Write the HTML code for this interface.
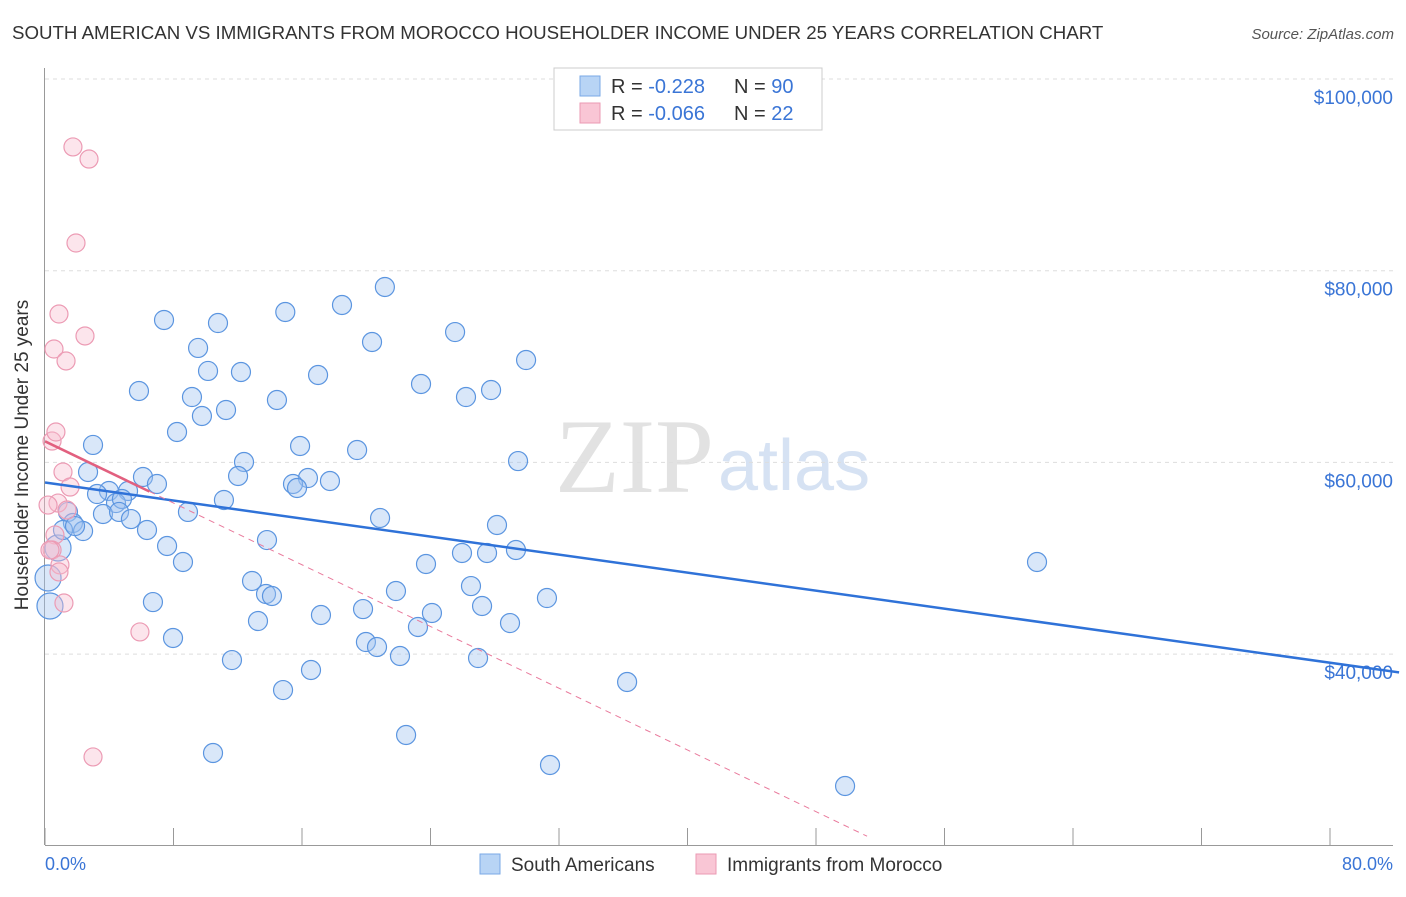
<!DOCTYPE html>
<html><head><meta charset="utf-8"><style>
body{margin:0;background:#fff;font-family:"Liberation Sans",sans-serif}
</style></head><body>
<svg width="1406" height="892" xmlns="http://www.w3.org/2000/svg" font-family="Liberation Sans, sans-serif">
<text x="12" y="39" font-size="18.7" fill="#333">SOUTH AMERICAN VS IMMIGRANTS FROM MOROCCO HOUSEHOLDER INCOME UNDER 25 YEARS CORRELATION CHART</text>
<text x="1394" y="39" font-size="15" fill="#555" font-style="italic" text-anchor="end">Source: ZipAtlas.com</text>
<text x="714" y="492" font-size="106" fill="#e2e2e2" text-anchor="end" font-family="Liberation Serif, serif">ZIP</text>
<text x="718" y="490" font-size="72" fill="#d6e2f3">atlas</text>
<g id="grid"></g><g id="axes"></g><g id="pts"></g><g id="lines"></g>
<text x="28" y="455" font-size="19" fill="#333" text-anchor="middle" transform="rotate(-90 28 455)">Householder Income Under 25 years</text>
<text x="45" y="870" font-size="18" fill="#3a75d6">0.0%</text>
<text x="1393" y="870" font-size="18" fill="#3a75d6" text-anchor="end">80.0%</text>
<g>
<rect x="554" y="68" width="268" height="62" fill="#fff" stroke="#ccc"/>
<rect x="580" y="76" width="20" height="20" fill="#b8d4f5" stroke="#7aa8e6"/>
<rect x="580" y="103" width="20" height="20" fill="#f9c6d5" stroke="#eb9ab3"/>
<text x="611" y="93" font-size="20" fill="#333">R = <tspan fill="#3a75d6">-0.228</tspan><tspan x="734">N = </tspan><tspan fill="#3a75d6">90</tspan></text>
<text x="611" y="120" font-size="20" fill="#333">R = <tspan fill="#3a75d6">-0.066</tspan><tspan x="734">N = </tspan><tspan fill="#3a75d6"> 22</tspan></text>
</g>
<g>
<rect x="480" y="854" width="20" height="20" fill="#b8d4f5" stroke="#7aa8e6"/>
<text x="511" y="871" font-size="19" fill="#333">South Americans</text>
<rect x="696" y="854" width="20" height="20" fill="#f9c6d5" stroke="#eb9ab3"/>
<text x="727" y="871" font-size="19" fill="#333">Immigrants from Morocco</text>
</g>
</svg>
<script>
const yTicks=[40000,60000,80000,100000];
const yTickLabels=["$40,000","$60,000","$80,000","$100,000"];
const blueX=[7.41,10.77,14.96,18.49,21.16,25.53,20.36,29.95,9.53,10.15,12.20,17.00,5.85,23.41,9.15,14.44,26.21,27.77,11.27,9.77,8.22,2.99,15.88,19.43,29.45,12.39,2.68,6.10,12.02,16.37,6.97,15.44,15.69,17.74,3.98,5.17,3.24,11.14,4.42,4.79,8.90,3.61,4.61,1.43,5.35,20.86,1.74,2.37,6.35,28.14,13.82,7.60,0.81,25.96,27.52,29.32,8.59,23.72,12.89,26.52,0.19,21.85,13.76,14.13,31.25,6.72,19.80,27.21,24.09,17.18,23.22,28.95,13.26,7.97,19.98,20.67,22.10,11.64,26.96,16.56,36.24,14.82,22.48,10.46,31.44,49.81,61.76,0.31,1.12,1.87];
const blueY=[74.86,74.54,75.69,76.42,78.30,73.60,72.56,70.68,71.94,69.54,69.43,69.12,67.45,68.18,66.82,66.51,66.82,67.55,65.47,64.84,63.17,61.82,61.71,61.29,60.14,60.04,59.00,58.48,58.58,58.37,57.75,57.75,57.33,58.06,57.02,57.02,56.70,56.08,55.76,56.18,54.83,54.62,54.83,54.83,54.09,54.20,53.68,52.84,52.95,53.47,51.90,51.28,51.07,50.55,50.55,50.86,49.61,49.40,47.63,47.10,47.94,46.58,46.27,46.06,45.85,45.43,44.70,45.02,44.29,44.08,42.83,43.24,43.45,41.68,41.26,40.74,39.80,39.38,39.59,38.34,37.09,36.25,31.56,29.68,28.43,26.24,49.61,45.02,52.95,53.36];
const pinkX=[1.74,2.74,1.93,0.87,2.49,0.56,1.31,0.44,0.68,1.12,1.56,0.81,1.37,0.62,0.44,0.93,0.87,1.18,5.91,2.99,0.31,0.19];
const pinkY=[92.91,91.65,82.89,75.48,73.19,71.83,70.58,62.23,63.17,59.00,57.43,55.76,55.03,52.43,50.86,49.30,48.57,45.33,42.31,29.27,50.86,55.55];
const blueTrend=[57.9,39.1];
const pinkTrend=[62.2,-0.805];
const X0=45,X1=1330,Y0=79,YPER=191.7/20;
const sx=v=>X0+(v/80)*(X1-X0);
const sy=k=>Y0+(100-k)*YPER;
const NS="http://www.w3.org/2000/svg";
function mk(tag,attrs,parent){const e=document.createElementNS(NS,tag);for(const k in attrs)e.setAttribute(k,attrs[k]);document.getElementById(parent).appendChild(e);return e;}
yTicks.forEach((t,i)=>{
 const y=sy(t/1000);
 const g=mk('line',{x1:45,x2:1393,y1:y,y2:y,stroke:'#ddd','stroke-dasharray':'4,4'},'grid');
 
 
 const tx=mk('text',{x:1393,y:y+25,'font-size':19,fill:'#3a75d6','text-anchor':'end'},'axes');
 tx.textContent=yTickLabels[i];
 
 
});
let a=mk('line',{x1:44.5,x2:44.5,y1:68,y2:845,stroke:'#999'},'axes');


a=mk('line',{x1:45,x2:1393,y1:845.5,y2:845.5,stroke:'#999'},'axes');


for(let i=0;i<=10;i++){const x=sx(i*8);const t=mk('line',{x1:x,x2:x,y1:828,y2:845,stroke:'#999'},'axes');
 
 }
blueX.forEach((v,i)=>{const big=(v<1&&blueY[i]<52)?13:9.5;
 const c=mk('circle',{cx:sx(v),cy:sy(blueY[i]),r:big,fill:'rgba(160,196,240,0.4)',stroke:'#5b95e0','stroke-width':1.2},'pts');
 
 });
pinkX.forEach((v,i)=>{
 const c=mk('circle',{cx:sx(v),cy:sy(pinkY[i]),r:9,fill:'rgba(248,190,208,0.4)',stroke:'#ec9bb4','stroke-width':1.2},'pts');
 
 });
let l=mk('line',{x1:sx(0),y1:sy(blueTrend[0]),x2:sx(84.3),y2:sy(blueTrend[0]+(blueTrend[1]-blueTrend[0])*84.3/80),stroke:'#2f72d8','stroke-width':2.5},'lines');


const xEnd=(pinkTrend[0]-21)/(-pinkTrend[1]);
l=mk('line',{x1:sx(6.5),y1:sy(pinkTrend[0]+pinkTrend[1]*6.5),x2:sx(xEnd),y2:sy(21),stroke:'#e97a9c','stroke-width':1,'stroke-dasharray':'6,5'},'lines');


l=mk('line',{x1:sx(0),y1:sy(pinkTrend[0]),x2:sx(6.5),y2:sy(pinkTrend[0]+pinkTrend[1]*6.5),stroke:'#e2607f','stroke-width':2.5},'lines');


</script>
</body></html>
